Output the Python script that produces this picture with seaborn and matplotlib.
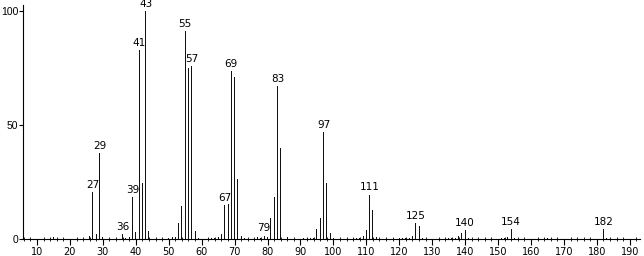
import matplotlib
matplotlib.use("Agg")
import matplotlib.pyplot as plt
import seaborn as sns
import pandas as pd
from matplotlib.ticker import MultipleLocator

mz = [14, 15, 26, 27, 28, 29, 30, 36, 37, 38, 39, 40, 41, 42, 43, 44,
      50, 51, 52, 53, 54, 55, 56, 57, 58, 59,
      62, 63, 64, 65, 66, 67, 68, 69, 70, 71, 72, 73,
      77, 78, 79, 80, 81, 82, 83, 84, 85, 86,
      91, 92, 93, 94, 95, 96, 97, 98, 99, 100,
      106, 107, 108, 109, 110, 111, 112, 113,
      120, 121, 122, 123, 124, 125, 126, 127,
      135, 136, 137, 138, 139, 140, 141,
      151, 152, 153, 154, 155, 165, 182, 183]
intensity = [0.5, 1, 1.5, 20.5, 2, 37.7, 1, 2, 0.5, 1, 18.5, 3, 83, 24.5, 100, 3.5,
             0.5, 1, 1, 7, 14.5, 91, 75, 76, 3.5, 0.5,
             0.3, 0.5, 0.5, 1, 2, 15, 15.5, 73.7, 71, 26.5, 1.5, 0.3,
             1, 0.5, 1.5, 1, 9.2, 18.5, 67, 40, 14.5, 1,
             0.5, 0.3, 0.5, 0.5, 4.5, 9, 47, 24.5, 2.5, 0.5,
             0.3, 0.5, 0.5, 1.5, 4, 19.5, 12.8, 1,
             0.3, 0.3, 0.3, 0.5, 1.5, 7, 5.5, 0.5,
             0.3, 0.5, 0.5, 1.5, 2.5, 4, 0.5,
             0.3, 0.5, 1, 4.5, 0.5, 0.3, 4.5, 0.5]
labeled = [27, 29, 36, 39, 41, 43, 55, 57, 67, 69, 79, 83, 97, 111, 125, 140, 154, 182]
x_ticks = list(range(10, 200, 10))
y_ticks = [0, 50, 100]

df = pd.DataFrame({"mz": mz, "intensity": intensity})

sns.set_style("ticks")
plt.rcParams['font.family'] = ['DejaVu Sans']

fig = plt.figure(figsize=(6.44, 2.56), dpi=100)
ax = fig.add_axes([23/644, 17/256, 617/644, 234/256])

sns.barplot(data=df, x="mz", y="intensity", native_scale=True, width=0.3,
            color="#111111", saturation=1, linewidth=0, ax=ax)

lookup = dict(zip(mz, intensity))
for m in labeled:
    ax.annotate(str(m), (m, lookup[m]), xytext=(0, 1.5), textcoords="offset points",
                ha="center", va="bottom", fontsize=7.5, color="black")

ax.set_xlim(5.75, 193.1)
ax.set_ylim(0, 102.6)
ax.set_xticks(x_ticks)
ax.xaxis.set_minor_locator(MultipleLocator(2))
ax.set_yticks(y_ticks)
ax.set_yticklabels([str(v) for v in y_ticks], family="Liberation Sans")
ax.tick_params(axis="x", which="major", direction="out", length=4, width=0.8,
               labelsize=7, pad=1.5, colors="black")
ax.tick_params(axis="x", which="minor", direction="inout", length=3, width=0.6, colors="black")
ax.tick_params(axis="y", which="major", direction="out", length=3, width=0.8,
               labelsize=7.5, pad=0.5, colors="black")
ax.set_xlabel("")
ax.set_ylabel("")
for s in ["top", "right"]:
    ax.spines[s].set_visible(False)
for s in ["left", "bottom"]:
    ax.spines[s].set_linewidth(0.8)
    ax.spines[s].set_color("black")

fig.savefig("out.png", dpi=100)
